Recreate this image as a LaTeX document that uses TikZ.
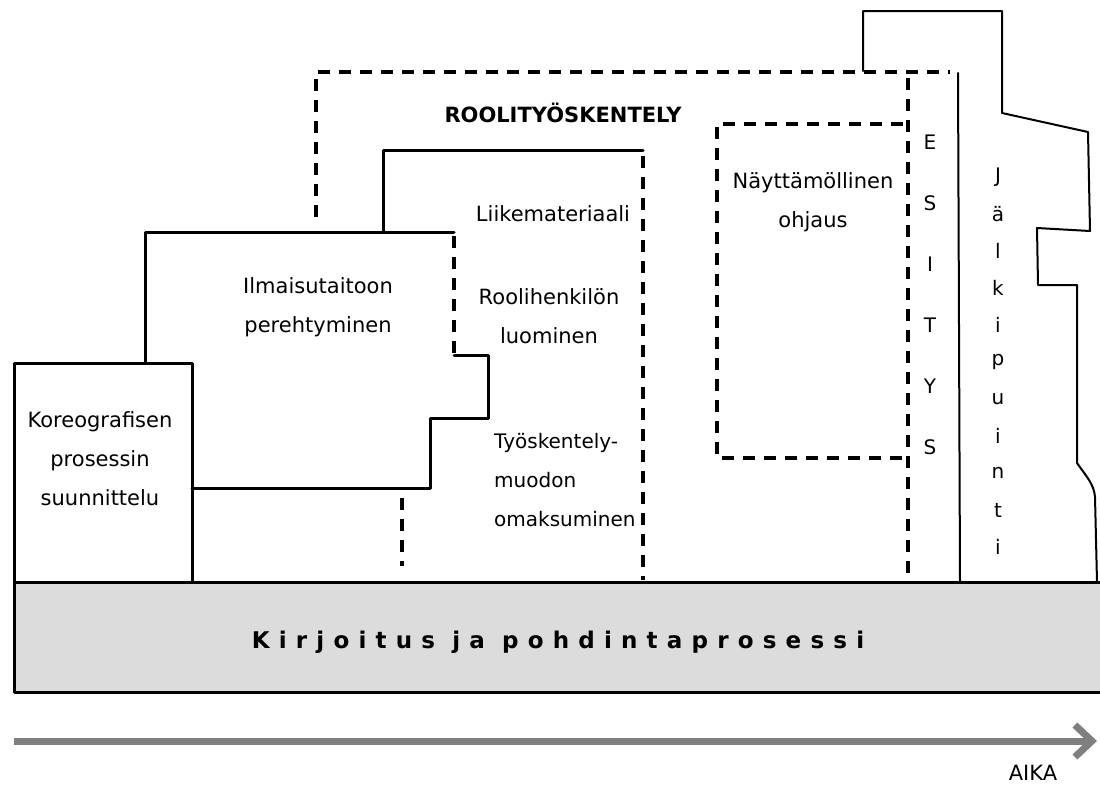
\documentclass[tikz,border=0pt]{standalone}
\usepackage{fontspec}
\setmainfont{DejaVu Sans}
\newfontfamily\barfont[LetterSpace=40]{DejaVu Sans}
\usetikzlibrary{arrows.meta}
\definecolor{barfill}{HTML}{DCDCDC}
\definecolor{arrowgray}{HTML}{7F7F7F}
\begin{document}
\begin{tikzpicture}[x=1pt,y=-1pt,
  solidline/.style={line width=3pt, line join=round, line cap=round},
  thinline/.style={line width=2pt, line join=round, line cap=round},
  dashline/.style={line width=4pt, dash pattern=on 12pt off 9pt},
  lbl/.style={font=\fontsize{21}{39}\selectfont, align=center, inner sep=0pt},
  lbll/.style={font=\fontsize{20}{39}\selectfont, align=left, inner sep=0pt, anchor=west},
  letter/.style={font=\fontsize{20}{22}\selectfont, inner sep=0pt},
  timearrow/.style={line width=7pt, draw=arrowgray, -{Straight Barb[length=17pt,width=32pt]}}]
\useasboundingbox (0,0) rectangle (1100,785);

% base bar
\fill[barfill] (14,582) rectangle (1104,692);
\draw[solidline] (1104,582) -- (14,582) -- (14,692) -- (1104,692);
\node[inner sep=0pt, font=\barfont\bfseries\fontsize{23}{26}\selectfont] (bar) at (558,642) {Kirjoitus ja pohdintaprosessi};

% Koreografisen box
\draw[solidline] (14,582) -- (14,363) -- (192,363) -- (192,582);
\node[lbl] (kor) at (100,459) {Koreografisen\\prosessin\\suunnittelu};

% Ilmaisutaitoon box
\draw[solidline] (145,363) -- (145,232) -- (454,232);
\draw[dashline] (454,236) -- (454,355);
\draw[solidline] (454,355) -- (488,355) -- (488,418) -- (430,418) -- (430,488) -- (192,488);
\node[lbl] (ilm) at (318,307) {Ilmaisutaitoon\\perehtyminen};

% Liikemateriaali region
\draw[solidline] (383,232) -- (383,150) -- (643,150);
\draw[dashline] (643,156) -- (643,580);
\draw[dashline] (402,498) -- (402,566);
\node[lbl] (liike) at (553,214) {Liikemateriaali};
\node[lbl] (rooli) at (549,316) {Roolihenkilön\\luominen};
\node[lbll] (tyo) at (494,480) {Työskentely-\\muodon\\omaksuminen};

% Roolityoskentely
\draw[dashline] (316,217) -- (316,72) -- (950,72);
\node[inner sep=0pt, font=\bfseries\fontsize{21}{24}\selectfont] (roolit) at (563,113) {ROOLITYÖSKENTELY};

% Nayttamollinen
\draw[dashline] (903,124) -- (717,124) -- (717,458) -- (903,458);
\node[lbl] (nay) at (813,202) {Näyttämöllinen\\ohjaus};

% Esitys
\draw[dashline] (908,78) -- (908,582);
\draw[thinline] (958,73) -- (960,582);
\foreach \c [count=\i from 0] in {E,S,I,T,Y,S}
  \node[letter] (es\i) at (930,{142+61*\i}) {\c};

% Jalkipuinti
\draw[thinline] (863,71) -- (863,11) -- (1002,11) -- (1002,113) -- (1088,132)
  -- (1090,231) -- (1037,228) -- (1038,285) -- (1077,285) -- (1077,463)
  .. controls (1086,476) and (1094,484) .. (1095,497) -- (1097,582);
\foreach \c [count=\i from 0] in {J,ä,l,k,i,p,u,i,n,t,i}
  \node[letter] (jp\i) at (998,{177+37*\i}) {\c};

% time arrow
\coordinate (tstart) at (14,741);
\coordinate (tend) at (1097,741);
\draw[timearrow] (tstart) -- (tend);
\node[inner sep=0pt, font=\fontsize{21}{23}\selectfont] (aika) at (1033,773) {AIKA};
\end{tikzpicture}
\end{document}
